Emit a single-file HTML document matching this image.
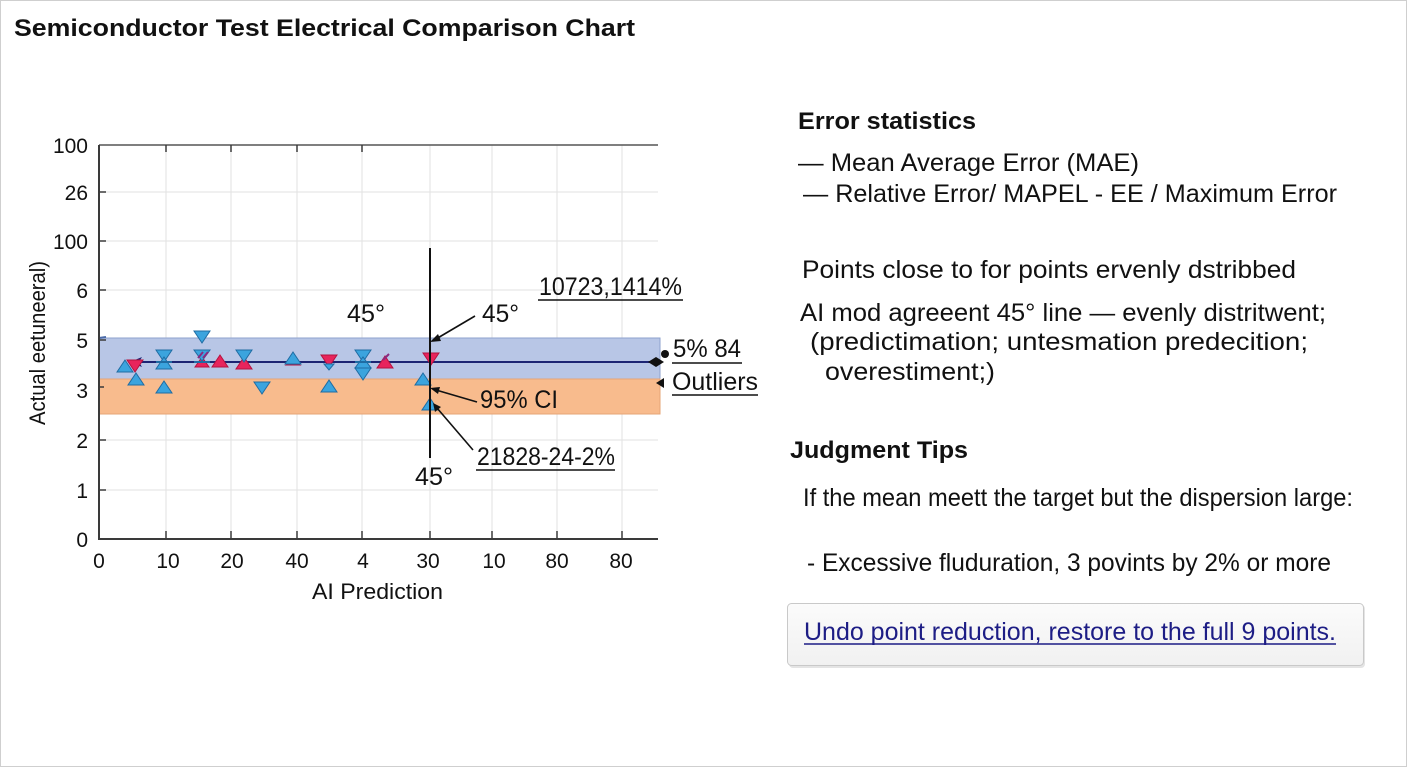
<!DOCTYPE html>
<html><head><meta charset="utf-8"><style>
html,body{margin:0;padding:0;background:#fff;}
svg{display:block;}
text{font-family:"Liberation Sans",Arial,sans-serif;fill:#111;}
</style></head><body>
<svg width="1408" height="768" viewBox="0 0 1408 768" xmlns="http://www.w3.org/2000/svg">
<rect x="0.5" y="0.5" width="1406" height="766" fill="#fff" stroke="#cfcfcf" stroke-width="1"/>
<text x="14" y="36" font-size="24" font-weight="bold" textLength="621" lengthAdjust="spacingAndGlyphs">Semiconductor Test Electrical Comparison Chart</text>

<!-- gridlines -->
<g stroke="#e2e2e2" stroke-width="1">
<line x1="99" y1="192" x2="658" y2="192"/><line x1="99" y1="241" x2="658" y2="241"/>
<line x1="99" y1="290" x2="658" y2="290"/><line x1="99" y1="340" x2="658" y2="340"/>
<line x1="99" y1="390" x2="658" y2="390"/><line x1="99" y1="440" x2="658" y2="440"/>
<line x1="99" y1="490" x2="658" y2="490"/>
<line x1="166" y1="145" x2="166" y2="539"/><line x1="231" y1="145" x2="231" y2="539"/>
<line x1="297" y1="145" x2="297" y2="539"/><line x1="362" y1="145" x2="362" y2="539"/>
<line x1="430" y1="145" x2="430" y2="539"/><line x1="492" y1="145" x2="492" y2="539"/>
<line x1="557" y1="145" x2="557" y2="539"/><line x1="622" y1="145" x2="622" y2="539"/>
</g>

<!-- bands -->
<rect x="99" y="338" width="561" height="41" fill="#b8c6e6" stroke="#8ea2cd" stroke-width="1"/>
<rect x="99" y="379" width="561" height="35" fill="#f8bb8d" stroke="#e6a476" stroke-width="1"/>
<line x1="99" y1="338" x2="106" y2="337" stroke="#4a6aa8" stroke-width="2"/>

<!-- axes -->
<g stroke="#3a3a3a">
<line x1="99" y1="145" x2="658" y2="145" stroke-width="1.5" stroke="#555"/>
<line x1="99" y1="145" x2="99" y2="540" stroke-width="2"/>
<line x1="98" y1="539" x2="658" y2="539" stroke-width="2"/>
<g stroke-width="1.5">
<line x1="99" y1="192" x2="106" y2="192"/><line x1="99" y1="241" x2="106" y2="241"/>
<line x1="99" y1="290" x2="106" y2="290"/><line x1="99" y1="340" x2="106" y2="340"/>
<line x1="99" y1="387" x2="104" y2="387"/><line x1="99" y1="440" x2="106" y2="440"/>
<line x1="99" y1="490" x2="106" y2="490"/>
<line x1="166" y1="539" x2="166" y2="531"/><line x1="231" y1="539" x2="231" y2="531"/>
<line x1="297" y1="539" x2="297" y2="531"/><line x1="362" y1="539" x2="362" y2="531"/>
<line x1="430" y1="539" x2="430" y2="531"/><line x1="492" y1="539" x2="492" y2="531"/>
<line x1="557" y1="539" x2="557" y2="531"/><line x1="622" y1="539" x2="622" y2="531"/>
<line x1="166" y1="145" x2="166" y2="152"/><line x1="231" y1="145" x2="231" y2="152"/>
<line x1="297" y1="145" x2="297" y2="152"/><line x1="362" y1="145" x2="362" y2="152"/>
</g>
</g>

<!-- y tick labels -->
<g font-size="21" text-anchor="end">
<text x="88" y="153">100</text><text x="88" y="200">26</text><text x="88" y="249">100</text>
<text x="88" y="298">6</text><text x="88" y="348">5</text><text x="88" y="398">3</text>
<text x="88" y="448">2</text><text x="88" y="498">1</text><text x="88" y="547">0</text>
</g>
<!-- x tick labels -->
<g font-size="21" text-anchor="middle">
<text x="99" y="568">0</text><text x="168" y="568">10</text><text x="232" y="568">20</text>
<text x="297" y="568">40</text><text x="363" y="568">4</text><text x="428" y="568">30</text>
<text x="494" y="568">10</text><text x="557" y="568">80</text><text x="621" y="568">80</text>
</g>
<text x="312" y="599" font-size="22" textLength="131" lengthAdjust="spacingAndGlyphs">AI Prediction</text>
<text transform="translate(45,425) rotate(-90)" font-size="22" textLength="164" lengthAdjust="spacingAndGlyphs">Actual eetuneeral)</text>

<!-- navy mean line -->
<line x1="136" y1="362" x2="656" y2="362" stroke="#1c2473" stroke-width="2"/>
<polygon points="130,362 142,357 139,362 142,367" fill="#1c2473"/>
<polygon points="648,362 656,357 664,362 656,367" fill="#111"/>

<!-- markers -->
<g stroke-width="1">
<!-- red -->
<g fill="#e8245c" stroke="#b5123f">
<polygon points="127,360 143,360 135,372"/>
<polygon points="212,367 228,367 220,355"/>
<polygon points="236,369 252,369 244,357"/>
<polygon points="286,365 300,365 293,360"/>
<polygon points="321,355 337,355 329,367"/>
<polygon points="377,368 393,368 385,356"/>
<polygon points="423,353 439,353 431,365"/>
<polygon points="195,367 209,367 202,357"/>
</g>
<!-- blue -->
<g fill="#3ba4de" stroke="#1f6ca3">
<polygon points="117,372 133,372 125,360"/>
<polygon points="128,385 144,385 136,373"/>
<polygon points="156,350 172,350 164,362"/>
<polygon points="156,369 172,369 164,357"/>
<polygon points="156,393 172,393 164,381"/>
<polygon points="194,331 210,331 202,343"/>
<polygon points="194,350 210,350 202,361"/>
<polygon points="236,350 252,350 244,362"/>
<polygon points="254,382 270,382 262,394"/>
<polygon points="285,364 301,364 293,352"/>
<polygon points="321,392 337,392 329,380"/>
<polygon points="355,350 371,350 363,362"/>
<polygon points="355,368 371,368 363,357"/>
<polygon points="355,368 371,368 363,380"/>
<polygon points="415,385 431,385 423,373"/>
<polygon points="422,410 438,410 430,398"/>
<polygon points="324,364 334,364 329,370"/>
</g>
<g stroke="#1f6ca3" stroke-width="2">
<line x1="156" y1="362" x2="172" y2="362"/><line x1="194" y1="362" x2="210" y2="362"/>
<line x1="355" y1="362" x2="371" y2="362"/>
</g>
<g stroke="#8a2a80" stroke-width="2">
<line x1="198" y1="358" x2="203" y2="352"/><line x1="203" y1="358" x2="208" y2="352"/>
<line x1="383" y1="360" x2="389" y2="354"/>
</g>
</g>

<!-- annotation vertical line -->
<line x1="430" y1="248" x2="430" y2="458" stroke="#111" stroke-width="2"/>

<!-- arrows -->
<g stroke="#111" stroke-width="1.6" fill="none">
<line x1="475" y1="316" x2="436" y2="339"/>
<line x1="477" y1="402" x2="436" y2="390"/>
<line x1="473" y1="450" x2="437" y2="408"/>
</g>
<g fill="#111">
<polygon points="430,342 438,334 441,341"/>
<polygon points="430,388 440,387 438,394"/>
<polygon points="433,403 441,407 435,412"/>
<circle cx="665" cy="354" r="4"/>
<polygon points="656,383 664,378 664,388"/>
</g>

<!-- annotation text -->
<g font-size="25">
<text x="347" y="322" textLength="38" lengthAdjust="spacingAndGlyphs">45°</text>
<text x="482" y="322" textLength="37" lengthAdjust="spacingAndGlyphs">45°</text>
<text x="415" y="485" textLength="38" lengthAdjust="spacingAndGlyphs">45°</text>
<text x="539" y="295" textLength="143" lengthAdjust="spacingAndGlyphs">10723,1414%</text>
<text x="673" y="357" textLength="68" lengthAdjust="spacingAndGlyphs">5% 84</text>
<text x="672" y="390" textLength="86" lengthAdjust="spacingAndGlyphs">Outliers</text>
<text x="480" y="408" textLength="78" lengthAdjust="spacingAndGlyphs">95% CI</text>
<text x="477" y="465" textLength="138" lengthAdjust="spacingAndGlyphs">21828-24-2%</text>
</g>
<g stroke="#111" stroke-width="1.6">
<line x1="538" y1="300" x2="683" y2="300"/>
<line x1="672" y1="363" x2="742" y2="363"/>
<line x1="672" y1="395" x2="758" y2="395"/>
<line x1="476" y1="470" x2="615" y2="470"/>
</g>

<!-- right panel -->
<text x="798" y="129" font-size="24" font-weight="bold" textLength="178" lengthAdjust="spacingAndGlyphs">Error statistics</text>
<g font-size="25">
<text x="798" y="171" textLength="341" lengthAdjust="spacingAndGlyphs">— Mean Average Error (MAE)</text>
<text x="803" y="202" textLength="534" lengthAdjust="spacingAndGlyphs">— Relative Error/ MAPEL - EE / Maximum Error</text>
<text x="802" y="278" textLength="494" lengthAdjust="spacingAndGlyphs">Points close to for points ervenly dstribbed</text>
<text x="800" y="321" textLength="526" lengthAdjust="spacingAndGlyphs">AI mod agreeent 45° line — evenly distritwent;</text>
<text x="810" y="350" textLength="498" lengthAdjust="spacingAndGlyphs">(predictimation; untesmation predecition;</text>
<text x="825" y="380" textLength="170" lengthAdjust="spacingAndGlyphs">overestiment;)</text>
</g>
<text x="790" y="458" font-size="24" font-weight="bold" textLength="178" lengthAdjust="spacingAndGlyphs">Judgment Tips</text>
<g font-size="25">
<text x="803" y="506" textLength="550" lengthAdjust="spacingAndGlyphs">If the mean meett the target but the dispersion large:</text>
<text x="807" y="571" textLength="524" lengthAdjust="spacingAndGlyphs">- Excessive fluduration, 3 povints by 2% or more</text>
</g>

<!-- button -->
<defs>
<linearGradient id="bg" x1="0" y1="0" x2="0" y2="1">
<stop offset="0" stop-color="#fbfbfb"/><stop offset="1" stop-color="#f1f1f1"/>
</linearGradient>
</defs>
<rect x="789" y="605" width="576" height="63" rx="4" fill="#e4e4e4"/>
<rect x="787.5" y="603.5" width="576" height="62" rx="4" fill="url(#bg)" stroke="#c9c9c9" stroke-width="1"/>
<text x="804" y="640" font-size="25" style="fill:#1d1d85" textLength="532" lengthAdjust="spacingAndGlyphs">Undo point reduction, restore to the full 9 points.</text>
<line x1="804" y1="644" x2="1336" y2="644" stroke="#1d1d85" stroke-width="1.5"/>
</svg>
</body></html>
